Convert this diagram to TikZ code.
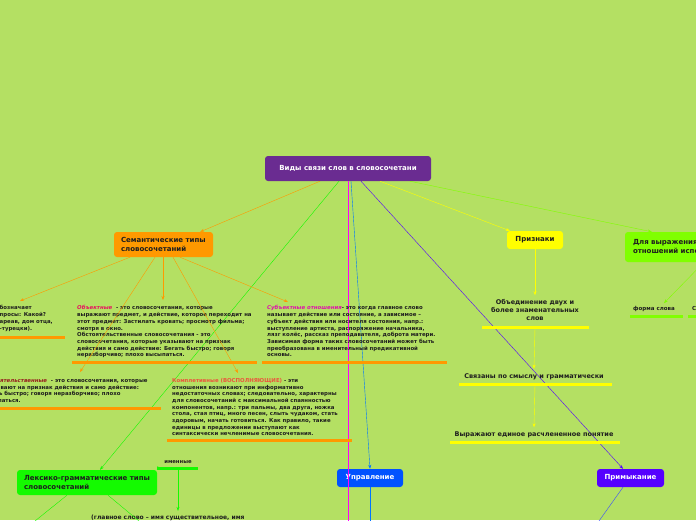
\documentclass[tikz,border=0pt]{standalone}
\usepackage{fontspec}
\setmainfont{DejaVu Sans}
\usetikzlibrary{arrows.meta,positioning}
\definecolor{bg}{RGB}{180,224,99}
\definecolor{rootc}{RGB}{106,44,145}
\definecolor{orng}{RGB}{255,153,0}
\definecolor{yell}{RGB}{255,255,0}
\definecolor{chart}{RGB}{128,255,0}
\definecolor{grn}{RGB}{20,250,0}
\definecolor{blu}{RGB}{0,82,255}
\definecolor{viol}{RGB}{85,0,255}
\definecolor{magn}{RGB}{255,0,255}
\definecolor{ink}{RGB}{30,30,30}
\definecolor{objc}{RGB}{230,20,95}
\definecolor{subjc}{RGB}{222,20,170}
\definecolor{obstc}{RGB}{150,30,30}
\definecolor{komplc}{RGB}{235,85,60}
\tikzset{
>={Stealth[length=4pt,width=3pt]}, % small bold arrow heads
topic/.style={rounded corners=3pt, inner sep=0pt, font=\bfseries\fontsize{7}{9.5}\selectfont, align=left},
note/.style={anchor=north west, inner sep=0pt, align=left, text=ink, font=\bfseries\fontsize{5.4}{6.7}\selectfont},
caption/.style={inner sep=0pt, align=center, text=ink, font=\bfseries\fontsize{6.5}{8}\selectfont},
bar/.style={line width=3pt},
}

\begin{document}
\begin{tikzpicture}[x=1pt,y=-1pt]
\useasboundingbox (0,0) rectangle (696,520);
\clip (0,0) rectangle (696,520);
\fill[bg] (0,0) rectangle (696,520);
% boxes
\node[topic, fill=rootc, text=white, minimum width=166pt, minimum height=25pt] (root) at (348,168.5) {Виды связи слов в словосочетани};
\node[topic, fill=orng, text=ink, minimum width=99pt, minimum height=25pt, text width=85pt] (sem) at (163.5,244.5) {Семантические типы\\словосочетаний};
\node[topic, fill=yell, text=ink, minimum width=56pt, minimum height=18pt, align=center] (priz) at (535,240) {Признаки};
\node[topic, fill=chart, text=ink, minimum width=180pt, minimum height=30pt, text width=164pt] (dlya) at (715,247) {Для выражения синтаксических\\отношений используются};
\node[topic, fill=grn, text=ink, minimum width=140pt, minimum height=25pt, text width=126pt] (lex) at (87,482.5) {Лексико-грамматические типы\\словосочетаний};
\node[topic, fill=blu, text=white, minimum width=66pt, minimum height=18pt, align=center] (upr) at (370,478) {Управление};
\node[topic, fill=viol, text=white, minimum width=67pt, minimum height=18pt, align=center] (prim) at (630.5,478) {Примыкание};
% root links
\coordinate (magend) at (348,521);
\draw[->, orng] ([xshift=-28pt]root.south) -- ([xshift=-13pt]sem.north east);
\draw[->, grn] ([xshift=-9pt]root.south) -- ([xshift=13pt]lex.north);
\draw[magn] (root.south) -- (magend);
\draw[->, blu!80!cyan] ([xshift=3pt]root.south) -- (upr.north);
\draw[->, viol] ([xshift=13pt]root.south) -- ([xshift=-7.5pt]prim.north);
\draw[->, yell] ([xshift=32pt]root.south) -- ([xshift=3pt]priz.north west);
\draw[->, chart] ([xshift=62pt]root.south) -- ([xshift=27pt]dlya.north west);
% semantic types
\node[note] (opred) at (-0.5,305.5) {бозначает\\просы: Какой?\\ареав, дом отца,\\-турецки).};
\draw[bar, orng] (0,337) -- (65,337);
\node[note] (obj) at (77,305.5) {{\color{objc}\itshape Объектные}\ \ - это словосочетания, которые\\выражают предмет, и действие, которое переходит на\\этот предмет: Застилать кровать; просмотр фильма;\\смотря в окно.\\Обстоятельственные словосочетания - это\\словосочетания, которые указывают на признак\\действия и само действие: Бегать быстро; говоря\\неразборчиво; плохо высыпаться.};
\draw[bar, orng] (72,362) -- (257,362);
\node[note] (subj) at (267,305.5) {{\color{subjc}\itshape Субъектные отношения}- это когда главное слово\\называет действие или состояние, а зависимое –\\субъект действия или носителя состояния, напр.:\\выступление артиста, распоряжение начальника,\\лязг колёс, рассказ преподавателя, доброта матери.\\Зависимая форма таких словосочетаний может быть\\преобразована в именительный предикативной\\основы.};
\draw[bar, orng] (262,362) -- (447,362);
\node[note] (obst) at (-18.5,378) {{\color{obstc}\itshape Обстоятельственные}\ \ - это словосочетания, которые\\указывают на признак действия и само действие:\\Бегать быстро; говоря неразборчиво; плохо\\высыпаться.};
\draw[bar, orng] (0,408) -- (161,408);
\node[note] (kompl) at (172,378) {{\color{komplc}Комплетивные (ВОСПОЛНЯЮЩИЕ)} - эти\\отношения возникают при информативно\\недостаточных словах; следовательно, характерны\\для словосочетаний с максимальной спаянностью\\компонентов, напр.: три пальмы, два друга, ножка\\стола, стая птиц, много песен, слыть чудаком, стать\\здоровым, начать готовиться. Как правило, такие\\единицы в предложении выступают как\\синтаксически нечленимые словосочетания.};
\draw[bar, orng] (167,440) -- (352,440);
\coordinate (opredin) at (20,301);
\coordinate (objin) at (163,300);
\coordinate (obstin) at (80,372);
\coordinate (komplin) at (238,373);
\coordinate (subjin) at (288,302);
\draw[->, orng] ([xshift=-33.5pt]sem.south) -- (opredin);
\draw[->, orng] ([xshift=-0.5pt]sem.south) -- (objin);
\draw[->, orng] ([xshift=-8.5pt]sem.south) -- (obstin);
\draw[->, orng] ([xshift=9.5pt]sem.south) -- (komplin);
\draw[->, orng] ([xshift=16.5pt]sem.south) -- (subjin);
% features
\node[caption] (obed) at (535,310) {Объединение двух и\\более знаменательных\\слов};
\draw[bar, yell] (482,327) -- (589,327);
\node[caption] (svyaz) at (534,377) {Связаны по смыслу и грамматически};
\draw[bar, yell] (459,384) -- (612,384);
\node[caption] (vyr) at (534,434.5) {Выражают единое расчлененное понятие};
\draw[bar, yell] (450,442) -- (620,442);
\coordinate (obedout) at (535,328);
\coordinate (svyazout) at (535,385);
\draw[->, yell] (priz.south) -- ([yshift=4pt]obed.north);
\draw[->, yell] (obedout) -- ([yshift=5pt]svyaz.north);
\draw[->, yell] (svyazout) -- ([yshift=4pt]vyr.north);
% means of expression
\node[caption, font=\bfseries\fontsize{5.5}{6}\selectfont] (forma) at (654,309) {форма слова};
\draw[bar, chart] (630,316) -- (683,316);
\node[caption, anchor=west, font=\bfseries\fontsize{5.5}{6}\selectfont] (sluzh) at (692,309) {Служебные слова};
\draw[bar, chart] (688,316) -- (760,316);
\draw[->, chart] ([xshift=-11pt]dlya.south) -- ([xshift=10pt,yshift=3pt]forma.north);
% lexical-grammatical types
\node[caption, font=\bfseries\fontsize{5.3}{6}\selectfont] (imen) at (178,462) {именные};
\draw[bar, grn] (157,468) -- (198,468);
\coordinate (imenout) at (178,470);
\coordinate (imenin) at (161,468);
\draw[->, grn] ([yshift=2pt]lex.north east) -- (imenin);
\node[caption, anchor=west, font=\bfseries\fontsize{6}{7}\selectfont] (glav) at (91,518) {(главное слово – имя существительное, имя};
\draw[->, grn] (imenout) -- ([yshift=4pt]glav.north -| imenout);
\coordinate (lexa) at (35,521);
\coordinate (lexb) at (139,521);
\draw[grn] ([xshift=-20pt]lex.south) -- (lexa);
\draw[grn] ([xshift=21pt]lex.south) -- (lexb);
% control and adjoining
\coordinate (uprend) at (370,521);
\coordinate (primend) at (599,521);
\draw[blu!80!cyan] (upr.south) -- (uprend);
\draw[viol!70!cyan] ([xshift=-7.5pt]prim.south) -- (primend);
\end{tikzpicture}
\end{document}
